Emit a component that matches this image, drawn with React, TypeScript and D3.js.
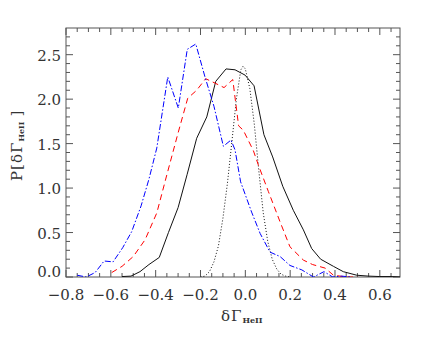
import React from "react";
import * as d3 from "d3";

const solidX = [-0.55, -0.51, -0.47, -0.43, -0.384, -0.343, -0.30, -0.26, -0.217, -0.172, -0.132, -0.086, -0.046, -0.001, 0.039, 0.083, 0.122, 0.167, 0.214, 0.259, 0.296, 0.336, 0.393, 0.437, 0.497, 0.55, 0.60, 0.65, 0.69];
const solidY = [0.005, 0.01, 0.06, 0.14, 0.22, 0.5, 0.78, 1.15, 1.56, 1.80, 2.20, 2.34, 2.33, 2.27, 2.15, 1.60, 1.35, 1.02, 0.75, 0.53, 0.32, 0.20, 0.12, 0.06, 0.02, 0.01, 0.005, 0.005, 0.0];

const blueX = [-0.75, -0.71, -0.67, -0.63, -0.59, -0.547, -0.507, -0.465, -0.43, -0.395, -0.346, -0.299, -0.259, -0.221, -0.18, -0.14, -0.098, -0.064, -0.046, -0.021, 0.028, 0.066, 0.11, 0.155, 0.199, 0.252, 0.304, 0.351, 0.39, 0.43, 0.47];
const blueY = [0.02, 0.0, 0.05, 0.18, 0.17, 0.33, 0.51, 0.80, 1.10, 1.45, 2.25, 1.90, 2.56, 2.62, 2.25, 1.92, 1.47, 1.54, 1.43, 1.07, 0.73, 0.49, 0.28, 0.23, 0.13, 0.08, 0.0, 0.06, 0.0, 0.01, 0.0];

const redX = [-0.596, -0.55, -0.50, -0.447, -0.395, -0.35, -0.30, -0.257, -0.217, -0.177, -0.135, -0.095, -0.056, -0.03, -0.009, 0.036, 0.058, 0.103, 0.155, 0.199, 0.259, 0.30, 0.356, 0.393, 0.452, 0.50];
const redY = [0.05, 0.12, 0.23, 0.42, 0.72, 1.15, 1.62, 2.01, 2.10, 2.23, 2.18, 2.13, 2.22, 1.70, 1.65, 1.42, 1.26, 0.96, 0.62, 0.34, 0.19, 0.14, 0.10, 0.02, 0.0, 0.0];

const dotX = [-0.20, -0.18, -0.16, -0.14, -0.12, -0.10, -0.08, -0.06, -0.04, -0.02, -0.01, 0.0, 0.02, 0.04, 0.06, 0.08, 0.10, 0.12, 0.14, 0.16, 0.18, 0.20];
const dotY = [0.0, 0.01, 0.06, 0.17, 0.35, 0.66, 1.05, 1.52, 2.00, 2.33, 2.37, 2.34, 2.12, 1.72, 1.20, 0.72, 0.40, 0.20, 0.09, 0.03, 0.01, 0.0];

const xTickValues = [-0.8, -0.6, -0.4, -0.2, 0.0, 0.2, 0.4, 0.6];
const yTickValues = [0.0, 0.5, 1.0, 1.5, 2.0, 2.5];

const W = 436;
const H = 354;
const L = 66, R = 400, T = 28, B = 277;

export default function App() {
  const x = d3.scaleLinear().domain([-0.8, 0.69]).range([L, R]);
  const y = d3.scaleLinear().domain([0, 2.8]).range([B, T]);
  const line = d3.line<[number, number]>().x(d => x(d[0])).y(d => y(d[1]));
  const mk = (xs: number[], ys: number[]) => line(xs.map((v, i) => [v, ys[i]] as [number, number])) || "";

  const xMinor = d3.range(-16, 14).map(i => i * 0.05).filter(v => v >= -0.8 - 1e-9 && v <= 0.69);
  const yMinor = d3.range(0, 28).map(i => i * 0.1);
  const axisColor = "#555";
  const font = "DejaVu Serif";
  const fmt = (v: number) => (v < -1e-9 ? "\u2212" : "") + Math.abs(v).toFixed(1);

  return (
    <svg width={W} height={H} style={{ position: "absolute", left: 0, top: 0, background: "#fff" }}>
      <defs>
        <clipPath id="plotclip">
          <rect x={L} y={T} width={R - L} height={B - T} />
        </clipPath>
      </defs>
      {xMinor.map((v, i) => {
        const major = xTickValues.some(t => Math.abs(t - v) < 1e-6);
        const len = major ? 7 : 4;
        return (
          <g key={"xt" + i} stroke={axisColor} strokeWidth={1}>
            <line x1={x(v)} x2={x(v)} y1={B} y2={B - len} />
            <line x1={x(v)} x2={x(v)} y1={T} y2={T + len} />
          </g>
        );
      })}
      {yMinor.map((v, i) => {
        const major = yTickValues.some(t => Math.abs(t - v) < 1e-6);
        const len = major ? 7 : 4;
        return (
          <g key={"yt" + i} stroke={axisColor} strokeWidth={1}>
            <line x1={L} x2={L + len} y1={y(v)} y2={y(v)} />
            <line x1={R} x2={R - len} y1={y(v)} y2={y(v)} />
          </g>
        );
      })}
      <rect x={L} y={T} width={R - L} height={B - T} fill="none" stroke={axisColor} strokeWidth={1} />
      <g clipPath="url(#plotclip)" fill="none">
        <path d={mk(solidX, solidY)} stroke="#111" strokeWidth={1} />
        <path d={mk(dotX, dotY)} stroke="#111" strokeWidth={1} strokeDasharray="1 2" />
        <path d={mk(redX, redY)} stroke="#ff0000" strokeWidth={1} strokeDasharray="6 4" />
        <path d={mk(blueX, blueY)} stroke="#0000ff" strokeWidth={1} strokeDasharray="6 2 1.5 2" />
      </g>
      {xTickValues.map((v, i) => (
        <text key={"xl" + i} x={x(v)} y={300} textAnchor="middle" fontFamily={font} fontSize={15} fill="#333">
          {fmt(v)}
        </text>
      ))}
      {yTickValues.map((v, i) => (
        <text key={"yl" + i} x={61} y={i === 0 ? 277 : y(v) + 6} textAnchor="end" fontFamily={font} fontSize={15} fill="#333">
          {fmt(v)}
        </text>
      ))}
      <text x={221} y={320.5} fontFamily={font} fontSize={15} fill="#333">
        δ<tspan dx={1}>Γ</tspan>
        <tspan fontSize={8} fontWeight="bold" dy={2} dx={1}>HeII</tspan>
      </text>
      <text transform="translate(22,181) rotate(-90)" fontFamily={font} fontSize={15} fill="#333">
        P<tspan dx={1}>[</tspan>
        <tspan dx={1}>δ</tspan>
        <tspan dx={1}>Γ</tspan>
        <tspan fontSize={8} fontWeight="bold" dy={2} dx={1}>HeII</tspan>
        <tspan dy={-2} dx={5}>]</tspan>
      </text>
    </svg>
  );
}
